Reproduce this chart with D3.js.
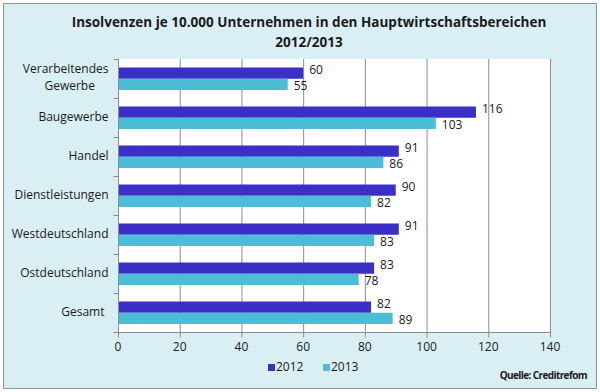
<!DOCTYPE html>
<html><head><meta charset="utf-8">
<script src="https://cdn.jsdelivr.net/npm/d3@7"></script>
<style>body{margin:0;background:#fff}svg{display:block}text{font-family:"Open Sans",sans-serif;fill:#1a1a1a}</style>
</head><body>
<script>
const categories = ["Verarbeitendes Gewerbe","Baugewerbe","Handel","Dienstleistungen","Westdeutschland","Ostdeutschland","Gesamt"];
const series = ["2012","2013"];
const values2012 = [60,116,91,90,91,83,82];
const values2013 = [55,103,86,82,83,78,89];
const xTicks = [0,20,40,60,80,100,120,140];
const titleLines = ["Insolvenzen je 10.000 Unternehmen in den Hauptwirtschaftsbereichen","2012/2013"];
const source = "Quelle: Creditrefom";
const colors = {"2012":"#3a2fc6","2013":"#4bbdd6"};

const W=600,H=392;
const svg=d3.select("body").append("svg").attr("width",W).attr("height",H);
svg.append("rect").attr("x",3.5).attr("y",3.5).attr("width",593).attr("height",385).attr("fill","#daeff3").attr("stroke","#8a9a9c");
const m={l:118,r:550,t:59,b:332};
svg.append("rect").attr("x",m.l).attr("y",m.t).attr("width",m.r-m.l).attr("height",m.b-m.t).attr("fill","#fff");
const x=d3.scaleLinear().domain([0,140]).range([m.l,m.r]);
const y=d3.scaleBand().domain(categories).range([m.t,m.b]);
const inner=d3.scaleBand().domain(series).range([8.5,y.bandwidth()-8]);

// gridlines
svg.append("g").selectAll("line").data(xTicks.slice(1)).join("line")
 .attr("x1",d=>x(d)+0.5).attr("x2",d=>x(d)+0.5).attr("y1",m.t).attr("y2",m.b).attr("stroke","#8c8c8c");

const data=categories.map((c,i)=>({c,v:{"2012":values2012[i],"2013":values2013[i]}}));
const g=svg.append("g");
series.forEach((s,si)=>{
  g.selectAll(".b"+s).data(data).join("rect")
   .attr("x",x(0)).attr("y",d=>y(d.c)+inner(s)).attr("width",d=>x(d.v[s])-x(0)).attr("height",inner.bandwidth())
   .attr("fill",colors[s]);
  g.selectAll(".t"+s).data(data).join("text")
   .attr("x",d=>x(d.v[s])+6).attr("y",d=>y(d.c)+inner(s)+inner.bandwidth()/2+(si===0?-2:2))
   .attr("dominant-baseline","middle").attr("font-size",12).text(d=>d.v[s]);
});

// axes
const ya=svg.append("g").attr("transform",`translate(${m.l+0.5},0)`);
ya.append("line").attr("y1",m.t).attr("y2",m.b).attr("stroke","#8c8c8c");
ya.selectAll(".tk").data(d3.range(categories.length+1)).join("line")
 .attr("x1",-5).attr("x2",0).attr("y1",i=>m.t+i*y.step()+0.5).attr("y2",i=>m.t+i*y.step()+0.5).attr("stroke","#8c8c8c");
categories.forEach(c=>{
  const cy=y(c)+y.bandwidth()/2;
  if(c==="Verarbeitendes Gewerbe"){
    const t1=ya.append("text").attr("x",-10).attr("y",cy-8.5).attr("text-anchor","end").attr("dominant-baseline","middle").attr("font-size",12).text("Verarbeitendes");
    const w=t1.node().getComputedTextLength();
    ya.append("text").attr("x",-10-w/2+4).attr("y",cy+8.5).attr("text-anchor","middle").attr("dominant-baseline","middle").attr("font-size",12).text("Gewerbe");
  } else {
    ya.append("text").attr("x",c==="Gesamt"?-14:-10).attr("y",cy)
     .attr("text-anchor","end").attr("dominant-baseline","middle").attr("font-size",12).text(c);
  }
});
const xa=svg.append("g").attr("transform",`translate(0,${m.b+0.5})`);
xa.append("line").attr("x1",m.l).attr("x2",m.r+1).attr("stroke","#8c8c8c");
xa.selectAll(".tk").data(xTicks).join("line").attr("x1",d=>x(d)+0.5).attr("x2",d=>x(d)+0.5).attr("y1",0).attr("y2",5).attr("stroke","#8c8c8c");
xa.selectAll("text").data(xTicks).join("text").attr("x",d=>x(d)).attr("y",15).attr("text-anchor","middle")
 .attr("dominant-baseline","middle").attr("font-size",12).text(d=>d);

// title
titleLines.forEach((t,i)=>svg.append("text").attr("x",309).attr("y",23+i*20).attr("text-anchor","middle")
 .attr("dominant-baseline","middle").attr("font-size",13.5).attr("font-weight","bold").text(t));

// legend
const lg=[{s:"2012",x:268},{s:"2013",x:323}];
lg.forEach(l=>{
  svg.append("rect").attr("x",l.x).attr("y",364).attr("width",7).attr("height",7).attr("fill",colors[l.s]);
  svg.append("text").attr("x",l.x+8).attr("y",368).attr("dominant-baseline","middle").attr("font-size",12).text(l.s);
});
svg.append("text").attr("x",587).attr("y",376).attr("text-anchor","end").attr("dominant-baseline","middle")
 .attr("font-size",10).attr("font-weight","bold").attr("letter-spacing","-0.6").text(source);
</script>
</body></html>
